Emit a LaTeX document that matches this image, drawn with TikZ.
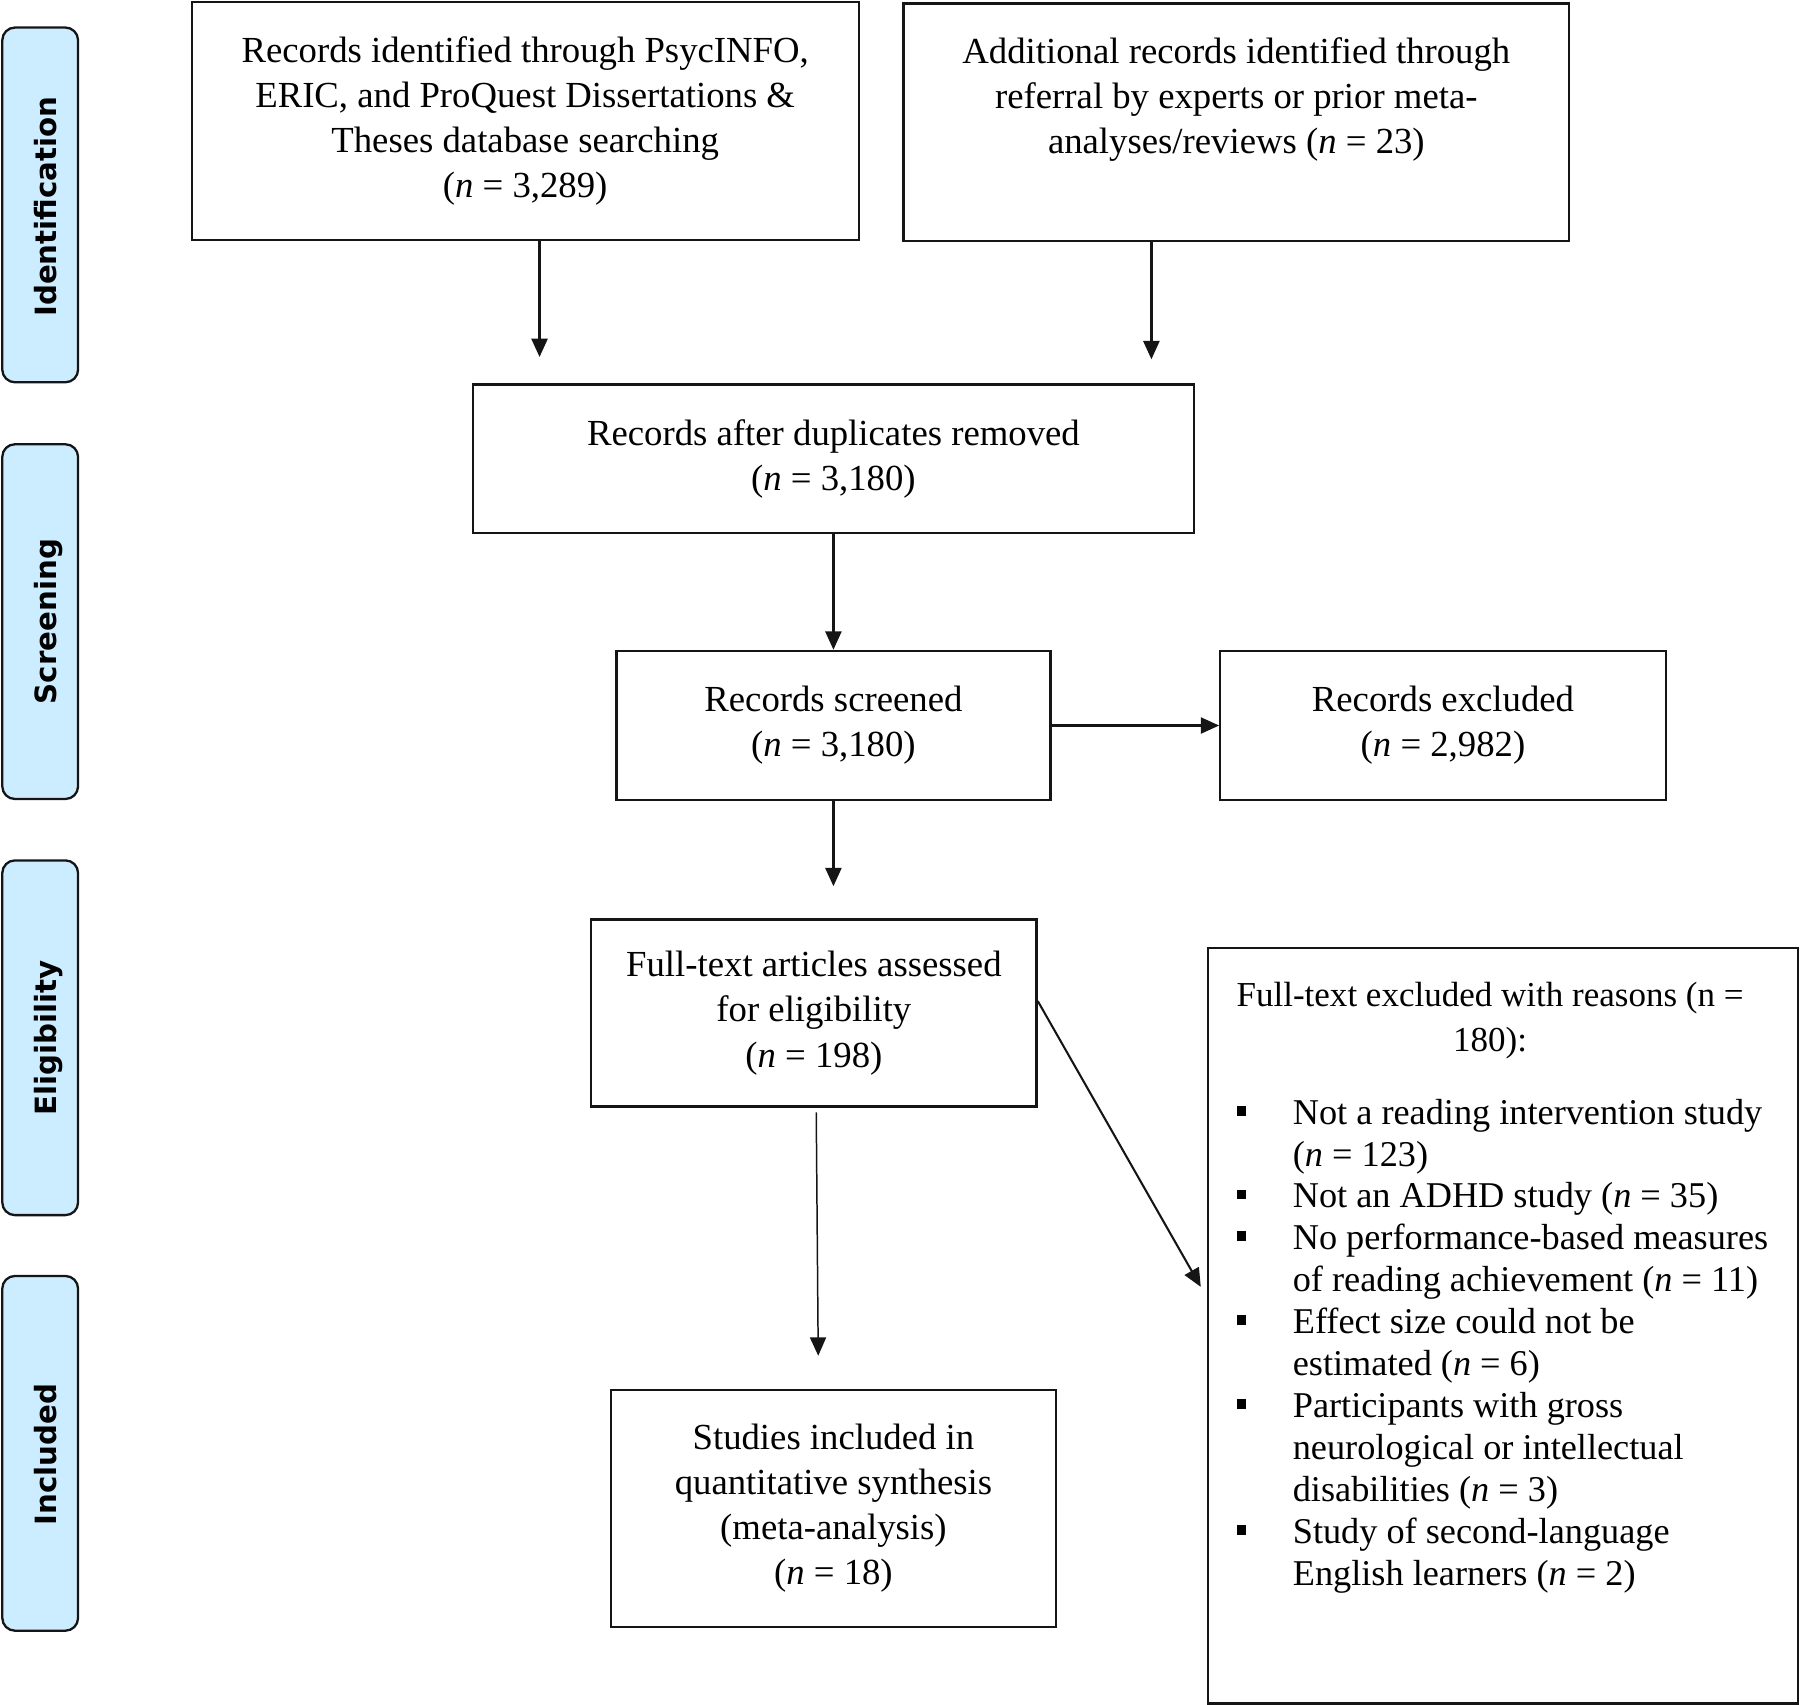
\documentclass[tikz,border=0pt]{standalone}
\usepackage{fontspec}
\setmainfont{Liberation Serif}
\newfontfamily\sidefont{DejaVu Sans}
\usetikzlibrary{arrows.meta}
\definecolor{sideblue}{HTML}{CCECFF}
\definecolor{ink}{HTML}{151515}
\newcommand{\bul}{\raisebox{7.5pt}{\rule{8.5pt}{8.5pt}}}
\begin{document}
\begin{tikzpicture}[x=1pt,y=-1pt,
  box/.style={draw=ink, line width=2pt, inner sep=0pt, align=center, font=\fontsize{32}{39.3}\selectfont},
  side/.style={draw=ink, fill=sideblue, line width=2pt, rounded corners=11pt, minimum width=66pt, minimum height=309pt, inner sep=0pt},
  sidelabel/.style={rotate=90, anchor=base, inner sep=0pt, font=\sidefont\bfseries\fontsize{25.5}{30}\selectfont},
  arr/.style={draw=ink, line width=2pt, -{Triangle[length=16pt,width=14pt]}},
  thinarr/.style={draw=ink, line width=1.3pt, -{Triangle[length=16pt,width=14pt]}},
]
\useasboundingbox (0,0) rectangle (1568,1485);

% side bars
\node[side] (s1) at (35,178.5) {};
\node[side] (s2) at (35,541.5) {};
\node[side] (s3) at (35,904) {};
\node[side] (s4) at (35,1266) {};
\node[sidelabel] (l1) at (49,180) {Identification};
\node[sidelabel] (l2) at (49,541.5) {Screening};
\node[sidelabel] (l3) at (49,904) {Eligibility};
\node[sidelabel] (l4) at (49,1267) {Included};

% boxes
\node[box, minimum width=581pt, minimum height=207pt] (A) at (457.5,105.5)
  {Records identified through PsycINFO,\\ERIC, and ProQuest Dissertations \&\\Theses database searching\\(\textit{n} = 3,289)};
\node[box, minimum width=580pt, minimum height=207pt] (B) at (1077,106.5)
  {Additional records identified through\\referral by experts or prior meta-\\analyses/reviews (\textit{n} = 23)\\[-5pt]\strut};
\node[box, minimum width=628pt, minimum height=129pt] (C) at (726,399.5)
  {Records after duplicates removed\\(\textit{n} = 3,180)};
\node[box, minimum width=378pt, minimum height=130pt] (D) at (726,632)
  {Records screened\\(\textit{n} = 3,180)};
\node[box, minimum width=388pt, minimum height=130pt] (E) at (1257,632)
  {Records excluded\\(\textit{n} = 2,982)};
\node[box, minimum width=388pt, minimum height=163pt] (F) at (709,882.5)
  {Full-text articles assessed\\for eligibility\\(\textit{n} = 198)};
\node[box, minimum width=388pt, minimum height=206pt] (G) at (726,1314)
  {Studies included in\\quantitative synthesis\\(meta-analysis)\\(\textit{n} = 18)};
\node[box, minimum width=514pt, minimum height=658pt] (H) at (1309,1155) {};

\node[inner sep=0pt, align=center, font=\fontsize{30.5}{40}\selectfont] (Ht) at (1298,889)
  {Full-text excluded with reasons (n =\\180):};
\node[anchor=north west, inner sep=0pt, font=\fontsize{31.6}{36.5}\selectfont] (Hl) at (1077,953.5) {%
\begin{tabular}{@{}p{49pt}@{}l@{}}
\bul & Not a reading intervention study\\
 & (\textit{n} = 123)\\
\bul & Not an ADHD study (\textit{n} = 35)\\
\bul & No performance-based measures\\
 & of reading achievement (\textit{n} = 11)\\
\bul & Effect size could not be\\
 & estimated (\textit{n} = 6)\\
\bul & Participants with gross\\
 & neurological or intellectual\\
 & disabilities (\textit{n} = 3)\\
\bul & Study of second-language\\
 & English learners (\textit{n} = 2)
\end{tabular}};

% connector columns
\coordinate (xa) at (470,0);
\coordinate (xb) at (1003,0);
\coordinate (xf) at (711,0);
\coordinate (xg) at (713,0);

\draw[arr, shorten >=23pt] (A.south -| xa) -- (C.north -| xa);
\draw[arr, shorten >=21pt] (B.south -| xb) -- (C.north -| xb);
\draw[arr] (C.south) -- (D.north);
\draw[arr] (D.east) -- (E.west);
\draw[arr, shorten >=28pt] (D.south) -- (D.south |- F.north);
\draw[thinarr, shorten <=4pt, shorten >=29pt] (F.south -| xf) -- (G.north -| xg);
\draw[arr, line width=1.8pt] ([yshift=10.5pt]F.east) -- ([xshift=-5pt,yshift=34pt]H.west);
\end{tikzpicture}
\end{document}
